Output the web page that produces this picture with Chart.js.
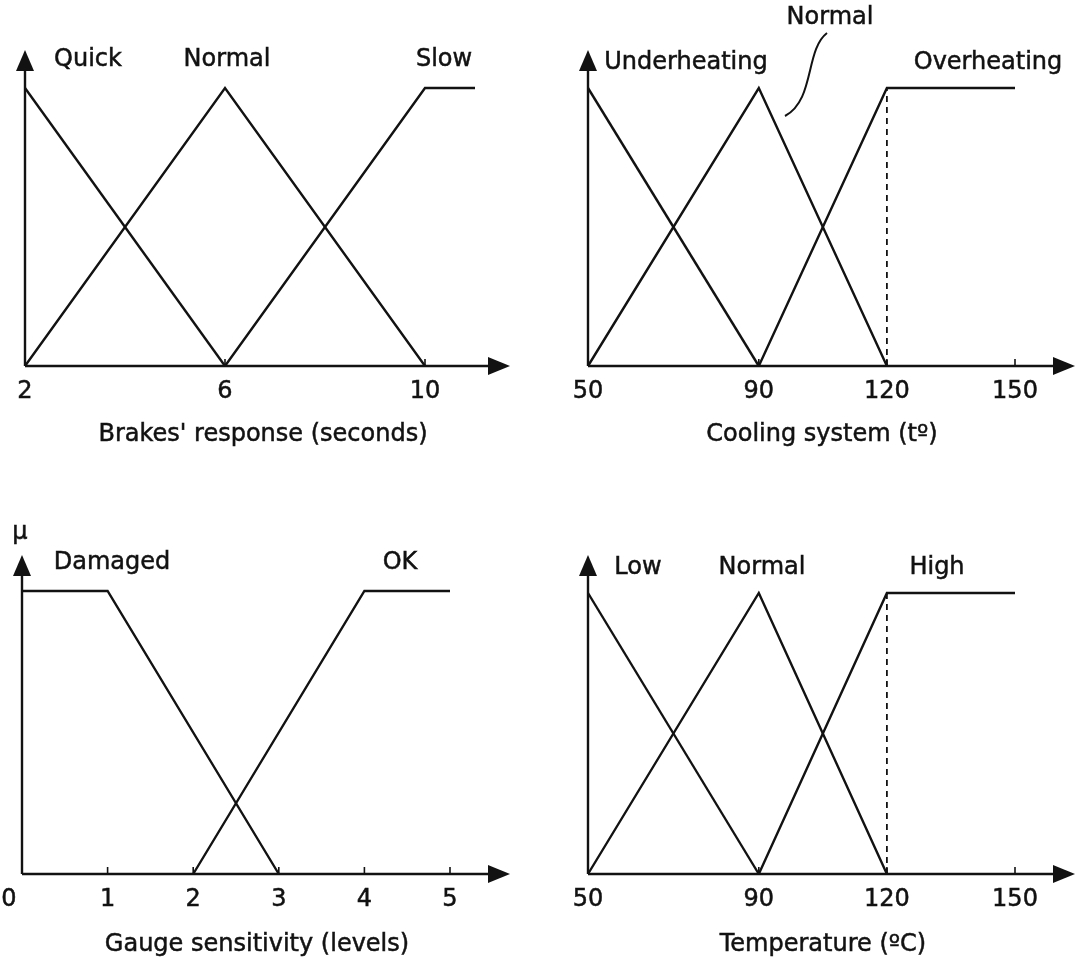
<!DOCTYPE html>
<html>
<head>
<meta charset="utf-8">
<script src="https://cdn.jsdelivr.net/npm/chart.js@4.4.1/dist/chart.umd.min.js"></script>
<style>
  html, body { margin: 0; padding: 0; background: #fff; }
  #wrap { position: relative; width: 1078px; height: 963px; overflow: hidden; }
  canvas { position: absolute; }
</style>
</head>
<body>
<div id="wrap">
  <canvas id="c1" width="539" height="481" style="left:0;top:0"></canvas>
  <canvas id="c2" width="539" height="481" style="left:539px;top:0"></canvas>
  <canvas id="c3" width="539" height="482" style="left:0;top:481px"></canvas>
  <canvas id="c4" width="539" height="482" style="left:539px;top:481px"></canvas>
</div>
<script>
// ---------- DATA ----------
// Panel 1: Brakes' response (seconds)
const brakesTicks = [2, 6, 10];
const brakesQuickX = [2, 6],        brakesQuickMu = [1, 0];
const brakesNormalX = [2, 6, 10],   brakesNormalMu = [0, 1, 0];
const brakesSlowX = [6, 10, 11],    brakesSlowMu = [0, 1, 1];
const brakesLabels = ["Quick", "Normal", "Slow"];

// Panel 2: Cooling system (tº)
const coolingTicks = [50, 90, 120, 150];
const coolingUnderX = [50, 90],          coolingUnderMu = [1, 0];
const coolingNormalX = [50, 90, 120],    coolingNormalMu = [0, 1, 0];
const coolingOverX = [90, 120, 150],     coolingOverMu = [0, 1, 1];
const coolingDashX = [120, 120],         coolingDashMu = [0, 1];
const coolingLabels = ["Underheating", "Normal", "Overheating"];

// Panel 3: Gauge sensitivity (levels)
const gaugeTicks = [0, 1, 2, 3, 4, 5];
const gaugeDamagedX = [0, 1, 3],  gaugeDamagedMu = [1, 1, 0];
const gaugeOkX = [2, 4, 5],       gaugeOkMu = [0, 1, 1];
const gaugeLabels = ["Damaged", "OK"];

// Panel 4: Temperature (ºC)
const tempTicks = [50, 90, 120, 150];
const tempLowX = [50, 90],           tempLowMu = [1, 0];
const tempNormalX = [50, 90, 120],   tempNormalMu = [0, 1, 0];
const tempHighX = [90, 120, 150],    tempHighMu = [0, 1, 1];
const tempDashX = [120, 120],        tempDashMu = [0, 1];
const tempLabels = ["Low", "Normal", "High"];

// ---------- STYLE / LAYOUT ----------
const INK = '#121212';
const FONT = '24px "DejaVu Sans", "Liberation Sans", Arial, sans-serif';
const pts = (xs, ys) => xs.map((x, i) => ({x: x, y: ys[i]}));
const solid = (xs, ys) => ({data: pts(xs, ys), borderColor: INK, borderWidth: 2.4, pointRadius: 0, tension: 0, fill: false});
const dashed = (xs, ys) => Object.assign(solid(xs, ys), {borderDash: [6, 5], borderWidth: 1.8});

function txt(ctx, t, x, y) {
  ctx.fillText(t, x, y);
  ctx.strokeText(t, x, y);
}

const axesPlugin = {
  id: 'fuzzyAxes',
  afterDatasetsDraw(chart, args, o) {
    const ctx = chart.ctx, a = chart.chartArea, xs = chart.scales.x;
    ctx.save();
    ctx.strokeStyle = INK; ctx.fillStyle = INK; ctx.lineWidth = 2.4;
    // y axis
    ctx.beginPath(); ctx.moveTo(a.left, a.bottom); ctx.lineTo(a.left, a.top + 16); ctx.stroke();
    ctx.beginPath(); ctx.moveTo(a.left, a.top); ctx.lineTo(a.left - 9, a.top + 21); ctx.lineTo(a.left + 9, a.top + 21); ctx.closePath(); ctx.fill();
    // x axis
    ctx.beginPath(); ctx.moveTo(a.left, a.bottom); ctx.lineTo(a.right - 16, a.bottom); ctx.stroke();
    ctx.beginPath(); ctx.moveTo(a.right, a.bottom); ctx.lineTo(a.right - 22, a.bottom - 9); ctx.lineTo(a.right - 22, a.bottom + 9); ctx.closePath(); ctx.fill();
    // ticks
    ctx.lineWidth = 1.6;
    o.ticks.forEach(v => {
      const px = xs.getPixelForValue(v);
      ctx.beginPath(); ctx.moveTo(px, a.bottom); ctx.lineTo(px, a.bottom - 7); ctx.stroke();
    });
    // texts
    ctx.font = FONT; ctx.textAlign = 'center'; ctx.textBaseline = 'middle';
    ctx.lineWidth = 0.5;
    o.ticks.forEach((v, i) => {
      const px = xs.getPixelForValue(v) + (i === 0 ? (o.firstShift || 0) : 0);
      txt(ctx, String(v), px, a.bottom + 26);
    });
    txt(ctx, o.title, o.titleX, a.bottom + o.titleDy);
    o.labels.forEach((t, i) => txt(ctx, t, o.labelPos[i][0], o.labelPos[i][1]));
    if (o.extra) o.extra(ctx);
    ctx.restore();
  }
};

function makeChart(id, datasets, xmin, xmax, ymax, pad, opts) {
  return new Chart(document.getElementById(id), {
    type: 'line',
    data: {datasets: datasets},
    options: {
      responsive: false, animation: false, devicePixelRatio: 1,
      layout: {padding: pad},
      clip: false,
      scales: {
        x: {type: 'linear', min: xmin, max: xmax, display: false},
        y: {type: 'linear', min: 0, max: ymax, display: false}
      },
      plugins: {legend: {display: false}, tooltip: {enabled: false}, fuzzyAxes: opts}
    },
    plugins: [axesPlugin]
  });
}

// Panel 1
makeChart('c1',
  [solid(brakesQuickX, brakesQuickMu), solid(brakesNormalX, brakesNormalMu), solid(brakesSlowX, brakesSlowMu)],
  2, 11.7, 316 / 278, {left: 25, top: 50, right: 29, bottom: 115},
  {ticks: brakesTicks, title: "Brakes' response (seconds)", titleX: 263, titleDy: 69,
   labels: brakesLabels, labelPos: [[88, 60], [227, 60], [444, 60]]});

// Panel 2
makeChart('c2',
  [solid(coolingUnderX, coolingUnderMu), solid(coolingNormalX, coolingNormalMu), solid(coolingOverX, coolingOverMu), dashed(coolingDashX, coolingDashMu)],
  50, 50 + 487 / 4.27, 316 / 278, {left: 49, top: 50, right: 3, bottom: 115},
  {ticks: coolingTicks, title: "Cooling system (tº)", titleX: 283, titleDy: 69,
   labels: coolingLabels, labelPos: [[147, 63], [291, 18], [449, 63]],
   extra(ctx) {
     ctx.lineWidth = 2;
     ctx.beginPath(); ctx.moveTo(288, 33); ctx.bezierCurveTo(266, 50, 276, 100, 246, 116); ctx.stroke();
   }});

// Panel 3
makeChart('c3',
  [solid(gaugeDamagedX, gaugeDamagedMu), solid(gaugeOkX, gaugeOkMu)],
  0, 488 / 85.6, 319 / 283, {left: 22, top: 74, right: 29, bottom: 89},
  {ticks: gaugeTicks, firstShift: -13, title: "Gauge sensitivity (levels)", titleX: 257, titleDy: 71,
   labels: gaugeLabels, labelPos: [[112, 82], [400, 82]],
   extra(ctx) { txt(ctx, 'μ', 20, 52); }});

// Panel 4
makeChart('c4',
  [solid(tempLowX, tempLowMu), solid(tempNormalX, tempNormalMu), solid(tempHighX, tempHighMu), dashed(tempDashX, tempDashMu)],
  50, 50 + 487 / 4.27, 319 / 281, {left: 49, top: 74, right: 3, bottom: 89},
  {ticks: tempTicks, title: "Temperature (ºC)", titleX: 284, titleDy: 71,
   labels: tempLabels, labelPos: [[99, 87], [223, 87], [398, 87]]});
</script>
</body>
</html>
